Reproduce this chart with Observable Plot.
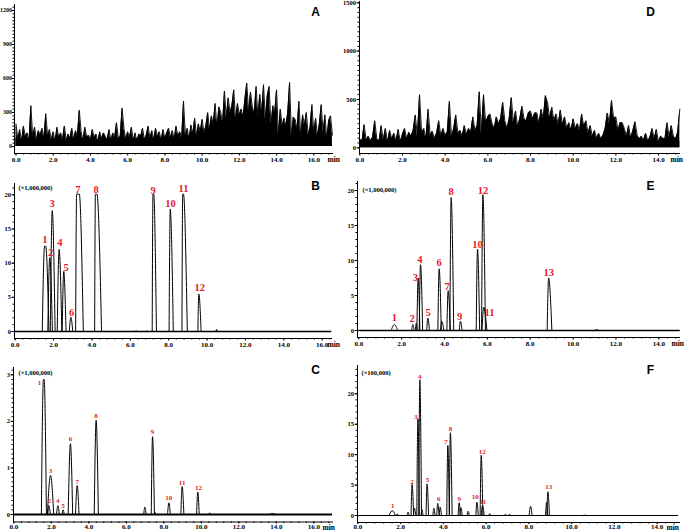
<!DOCTYPE html>
<html><head><meta charset="utf-8">
<script src="https://cdn.jsdelivr.net/npm/d3@7"></script>
<script src="https://cdn.jsdelivr.net/npm/@observablehq/plot@0.6"></script>
<style>
body{margin:0;background:#fff;}
#wrap{position:relative;width:685px;height:531px;overflow:hidden;background:#fff;}
#wrap svg{position:absolute;}
</style></head><body><div id="wrap"></div>
<script>
// ---------- tick values ----------
const xTicks16 = [0, 2, 4, 6, 8, 10, 12, 14, 16];
const xTicks14 = [0, 2, 4, 6, 8, 10, 12, 14];
const yTicksA = [0, 300, 600, 900, 1200];
const yTicksD = [0, 500, 1000, 1500];
const yTicksB = [0, 5, 10, 15, 20];
const yTicksC = [0, 1, 2, 3];
const yTicksE = [0, 5, 10, 15, 20];
const yTicksF = [0, 5, 10, 15, 20];

// ---------- blank noise traces (A, D), sampled every 0.1 min ----------
const noiseStep = 0.1;
const noiseA = [
 200,60,150,40,180,90,120,50,360,80,
 170,60,140,100,160,70,290,90,150,60,
 130,40,170,80,120,60,180,50,110,70,
 160,60,140,90,320,130,50,170,80,100,
 60,150,80,110,40,130,70,120,90,60,
 150,50,120,80,210,70,90,340,160,60,
 130,80,170,50,120,40,110,90,160,60,
 100,180,70,140,60,160,90,130,50,150,
 70,120,160,80,140,60,180,90,130,70,
 400,100,160,60,190,110,250,90,200,130,
 240,120,180,300,150,270,200,380,160,350,
 300,200,490,250,430,300,360,500,230,380,
 280,330,260,420,560,300,480,350,290,530,
 260,460,300,545,240,450,530,180,360,300,
 500,100,330,180,250,180,300,565,90,260,
 240,150,400,80,280,190,300,100,170,370,
 120,250,90,200,370,120,280,60,230,270,
 100];
// filled low-level band under the overlaid blank traces
const floorA_t = [0, 2, 4, 6, 8, 9, 9.8, 10.4, 10.6, 11, 12, 13, 13.8, 14.05, 15, 16, 17];
const floorA_v = [70, 60, 60, 70, 70, 80, 100, 140, 200, 230, 250, 240, 200, 40, 30, 30, 30];

const noiseD = [
 90,60,240,80,120,70,110,280,90,60,
 230,80,200,60,180,90,150,70,190,60,
 140,200,90,160,120,180,340,120,550,150,
 200,90,400,130,170,100,150,280,120,200,
 130,160,480,110,200,340,150,180,120,230,
 140,200,160,320,180,230,580,150,550,260,
 320,350,250,200,320,250,300,470,280,200,
 300,520,260,380,220,300,430,300,280,360,
 380,300,360,360,250,400,300,540,470,300,
 420,280,350,240,390,240,320,200,260,180,
 300,200,250,180,350,220,280,150,230,120,
 180,100,150,90,130,200,360,250,490,300,
 320,180,260,260,200,120,230,100,180,270,
 130,90,120,80,150,70,110,200,90,190,
 60,120,100,90,260,110,230,120,90,160,
 400];
const floorD_t = [0, 2, 4, 5, 5.5, 6.5, 8, 9.5, 10.5, 11.2, 11.6, 12.2, 13, 15];
const floorD_v = [80, 80, 90, 100, 130, 170, 180, 170, 120, 60, 130, 100, 70, 70];

// ---------- peaks: [retention time (min), height, left width, right width, top half-width] ----------
const peaksB = [
 [1.56, 12.5, 0.15, 0.20, 0.03], [1.80, 10.8, 0.10, 0.14, 0], [1.93, 17.7, 0.10, 0.15, 0],
 [2.29, 12.0, 0.10, 0.14, 0], [2.53, 8.8, 0.08, 0.12, 0], [2.90, 2.1, 0.08, 0.10, 0],
 [3.27, 20.1, 0.12, 0.28, 0.07], [4.22, 20.1, 0.08, 0.28, 0.04], [7.20, 20.1, 0.06, 0.16, 0.02],
 [8.08, 17.9, 0.06, 0.16, 0], [8.75, 20.1, 0.06, 0.22, 0.02], [9.57, 5.5, 0.05, 0.12, 0],
 [10.5, 0.3, 0.05, 0.05, 0], [6.3, 0.12, 0.05, 0.05, 0], [6.85, 0.08, 0.05, 0.05, 0]];
const labelB_s = ["1","2","3","4","5","6","7","8","9","10","11","12"];
const labelB_t = [1.55, 1.84, 1.93, 2.33, 2.66, 2.94, 3.27, 4.22, 7.19, 8.10, 8.77, 9.62];
const labelB_v = [13.4, 11.6, 18.7, 13.0, 9.4, 2.8, 20.8, 20.8, 20.6, 18.7, 20.9, 6.4];

const peaksE = [
 [1.66, 0.86, 0.15, 0.15, 0], [2.52, 0.86, 0.05, 0.06, 0], [2.68, 1.0, 0.04, 0.05, 0],
 [2.77, 7.5, 0.06, 0.08, 0], [2.88, 9.4, 0.06, 0.10, 0], [3.22, 1.76, 0.05, 0.08, 0],
 [3.75, 8.8, 0.06, 0.10, 0], [3.87, 1.3, 0.06, 0.10, 0], [4.17, 5.7, 0.06, 0.10, 0],
 [4.31, 19.0, 0.06, 0.12, 0], [4.74, 1.33, 0.05, 0.08, 0], [5.54, 11.6, 0.06, 0.10, 0],
 [5.79, 19.4, 0.06, 0.12, 0], [5.83, 3.3, 0.08, 0.15, 0], [8.86, 7.5, 0.07, 0.15, 0],
 [11.1, 0.12, 0.10, 0.10, 0]];
const labelE_s = ["1","2","3","4","5","6","7","8","9","10","11","12","13"];
const labelE_t = [1.66, 2.49, 2.64, 2.85, 3.23, 3.75, 4.12, 4.31, 4.71, 5.54, 6.10, 5.80, 8.86];
const labelE_v = [1.9, 1.76, 7.6, 10.1, 2.5, 9.7, 6.2, 19.8, 2.05, 12.3, 2.6, 20.0, 8.2];

const peaksC = [
 [1.60, 2.90, 0.13, 0.14, 0.02], [1.87, 0.19, 0.06, 0.08, 0], [1.96, 0.84, 0.17, 0.17, 0],
 [2.35, 0.19, 0.07, 0.08, 0], [2.63, 0.10, 0.06, 0.06, 0], [3.02, 1.52, 0.12, 0.12, 0],
 [3.38, 0.62, 0.09, 0.10, 0], [4.39, 2.02, 0.10, 0.12, 0], [6.99, 0.16, 0.06, 0.07, 0],
 [7.40, 1.67, 0.07, 0.10, 0], [7.52, 0.05, 0.04, 0.05, 0], [8.27, 0.25, 0.07, 0.08, 0],
 [8.98, 0.60, 0.07, 0.09, 0], [9.81, 0.48, 0.06, 0.08, 0], [10.45, 0.03, 0.08, 0.08, 0],
 [13.8, 0.02, 0.15, 0.15, 0]];
const labelC_s = ["1","2","3","4","5","6","7","8","9","10","11","12"];
const labelC_t = [1.37, 1.90, 1.96, 2.35, 2.63, 3.02, 3.38, 4.39, 7.40, 8.27, 8.98, 9.85];
const labelC_v = [2.83, 0.29, 0.94, 0.29, 0.19, 1.62, 0.71, 2.11, 1.77, 0.36, 0.69, 0.57];

const peaksF = [
 [1.61, 0.8, 0.15, 0.15, 0], [1.85, 0.25, 0.05, 0.05, 0], [2.35, 0.55, 0.04, 0.05, 0],
 [2.54, 5.1, 0.05, 0.07, 0], [2.65, 1.2, 0.05, 0.06, 0], [2.81, 15.9, 0.05, 0.07, 0],
 [2.90, 22.3, 0.05, 0.08, 0], [3.00, 1.0, 0.04, 0.05, 0], [3.24, 5.2, 0.05, 0.07, 0],
 [3.56, 1.2, 0.05, 0.05, 0], [3.74, 2.0, 0.05, 0.06, 0], [3.85, 1.4, 0.04, 0.06, 0],
 [4.21, 11.5, 0.05, 0.07, 0], [4.33, 13.6, 0.05, 0.08, 0], [4.74, 2.1, 0.05, 0.05, 0],
 [4.82, 1.3, 0.04, 0.06, 0], [5.16, 0.7, 0.05, 0.05, 0], [5.57, 2.2, 0.05, 0.06, 0],
 [5.77, 9.9, 0.05, 0.08, 0], [5.83, 1.6, 0.06, 0.08, 0], [6.17, 0.3, 0.06, 0.06, 0],
 [6.90, 0.2, 0.05, 0.05, 0], [7.10, 0.2, 0.05, 0.05, 0], [8.08, 1.5, 0.07, 0.07, 0],
 [8.83, 2.2, 0.05, 0.05, 0], [8.89, 3.9, 0.05, 0.07, 0], [10.6, 0.05, 0.08, 0.08, 0]];
const labelF_s = ["1","2","3","4","5","6","7","8","9","10","11","12","13"];
const labelF_t = [1.64, 2.53, 2.71, 2.90, 3.26, 3.79, 4.12, 4.33, 4.74, 5.49, 5.85, 5.82, 8.93];
const labelF_v = [1.64, 5.5, 16.2, 22.8, 5.9, 2.7, 12.1, 14.2, 2.7, 3.0, 2.2, 10.5, 4.7];

// ---------- helpers ----------
const RED = "#e3222a";
const SERIF = "'Liberation Serif', 'Times New Roman', serif";
const SANS = "'Liberation Sans', Arial, sans-serif";
const wrap = document.getElementById("wrap");

function lin(cal, p) {
  const [[v0, p0], [v1, p1]] = cal;
  return v0 + (p - p0) * (v1 - v0) / (p1 - p0);
}
function peakRows(peaks) {
  const rows = [];
  peaks.forEach(([t, h, wl, wr, tw], k) => {
    rows.push({t: t - wl, v: 0, k});
    if (tw > 0) { rows.push({t: t - tw, v: h, k}); rows.push({t: t + tw, v: h, k}); }
    else rows.push({t, v: h, k});
    rows.push({t: t + wr, v: 0, k});
  });
  return rows;
}
function steps(lo, hi, step) {
  const out = [];
  for (let i = Math.ceil(lo / step - 1e-9); i * step <= hi + 1e-9; i++) out.push(+(i * step).toFixed(6));
  return out;
}

function panel(c) {
  const xLo = lin(c.xc, c.left), xHi = lin(c.xc, c.right);
  const yLo = lin(c.yc, c.bottom), yHi = lin(c.yc, c.top);
  const marks = [];
  if (c.noise) {
    const rows = c.noise.map((v, i) => ({t: i * noiseStep, v}));
    marks.push(Plot.areaY(c.floor[0].map((t, i) => ({t, v: c.floor[1][i]})), {x: "t", y: "v", fill: "black"}));
    marks.push(Plot.areaY(rows, {x: "t", y: "v", fill: "black"}));
    marks.push(Plot.line(rows, {x: "t", y: "v", stroke: "black", strokeWidth: 0.9}));
  }
  if (c.baseline) marks.push(Plot.ruleY([0], {x1: c.baseline[0], x2: c.baseline[1], stroke: "black", strokeWidth: c.baseW || 1.5}));
  if (c.peaks) marks.push(Plot.line(peakRows(c.peaks), {x: "t", y: "v", z: "k", curve: "monotone-x", stroke: "black", strokeWidth: 1}));
  if (c.labels) marks.push(Plot.text(c.labels[0].map((s, i) => ({s, t: c.labels[1][i], v: c.labels[2][i]})),
    {x: "t", y: "v", text: "s", fill: RED, fontSize: c.labelSize, fontWeight: "bold", fontFamily: SERIF}));
  // axes
  marks.push(Plot.ruleX([xLo], {stroke: "black", strokeWidth: 1}));
  marks.push(Plot.ruleY([yLo], {stroke: "black", strokeWidth: 1}));
  marks.push(Plot.axisY(steps(Math.max(yLo, 0), yHi, c.yMinor), {anchor: "left", tickSize: 1.5, tickFormat: () => "", label: null, stroke: "black"}));
  marks.push(Plot.axisY(c.yTicks, {anchor: "left", tickSize: c.yTickSize || 2.5, tickPadding: c.yPad ?? 1, tickFormat: d => String(d), label: null,
    fontSize: c.yFont || 6.5, fontWeight: "bold", fontFamily: SERIF, fill: "black", stroke: "black"}));
  marks.push(Plot.axisX(steps(Math.max(xLo, 0), xHi, c.xMinor), {anchor: "bottom", tickSize: 1.5, tickFormat: () => "", label: null, stroke: "black"}));
  marks.push(Plot.axisX(c.xTicks, {anchor: "bottom", tickSize: c.xTickSize || 2.5, tickPadding: c.xPad ?? 1, tickFormat: d3.format(".1f"), label: null,
    fontSize: 7, fontWeight: "bold", fontFamily: SERIF, fill: "black", stroke: "black"}));
  marks.push(Plot.text(["min"], {frameAnchor: "bottom-right", textAnchor: "start", lineAnchor: "middle", dx: c.minDx, dy: c.minDy || 6.5,
    fontSize: 7.5, fontWeight: "bold", fontFamily: SERIF, fill: "black"}));
  marks.push(Plot.text([c.letter], {frameAnchor: "top-left", textAnchor: "middle", lineAnchor: "middle", dx: c.letterPos[0] - c.left, dy: c.letterPos[1] - c.top,
    fontSize: 12, fontWeight: "bold", fontFamily: SANS, fill: "black"}));
  if (c.unit) marks.push(Plot.text([c.unit], {frameAnchor: "top-left", textAnchor: "start", lineAnchor: "middle", dx: c.unitPos[0] - c.left, dy: c.unitPos[1] - c.top,
    fontSize: 6.5, fontWeight: "bold", fontFamily: SERIF, fill: "black"}));

  const svg = Plot.plot({
    width: c.W, height: c.H,
    marginLeft: c.left - c.L, marginRight: c.L + c.W - c.right,
    marginTop: c.top - c.T, marginBottom: c.T + c.H - c.bottom,
    x: {domain: [xLo, xHi], label: null},
    y: {domain: [yLo, yHi], label: null},
    style: {background: "transparent", overflow: "visible", fontFamily: SERIF, fontSize: "7px", fontWeight: "bold", color: "black"},
    marks
  });
  svg.style.left = c.L + "px";
  svg.style.top = c.T + "px";
  wrap.appendChild(svg);
}

// ---------- panels ----------
panel({letter: "A", L: 0, T: 0, W: 342, H: 170, left: 14, right: 333, top: 4, bottom: 153,
  xc: [[0, 15.5], [16, 313.3]], yc: [[0, 146], [1200, 10]], xTicks: xTicks16, yTicks: yTicksA,
  xMinor: 0.4, yMinor: 30, noise: noiseA, floor: [floorA_t, floorA_v], minDx: -6, letterPos: [315, 12],
  yFont: 6, yTickSize: 2, yPad: 0.5});

panel({letter: "D", L: 342, T: 0, W: 343, H: 170, left: 359, right: 680, top: 1, bottom: 153,
  xc: [[0, 359.3], [14, 658]], yc: [[0, 147.3], [1500, 2.3]], xTicks: xTicks14, yTicks: yTicksD,
  xMinor: 0.4, yMinor: 50, noise: noiseD, floor: [floorD_t, floorD_v], minDx: -10, letterPos: [650, 12]});

panel({letter: "B", L: 0, T: 170, W: 342, H: 180, left: 14, right: 332, top: 183, bottom: 338,
  xc: [[0, 14.7], [16, 321.7]], yc: [[0, 331], [20, 194.3]], xTicks: xTicks16, yTicks: yTicksB,
  xMinor: 0.4, yMinor: 1, peaks: peaksB, baseline: [0, 16.5], labels: [labelB_s, labelB_t, labelB_v], labelSize: 10.5,
  unit: "(×1,000,000)", unitPos: [18, 187], minDx: -5, letterPos: [315, 186]});

panel({letter: "E", L: 342, T: 170, W: 343, H: 180, left: 357, right: 680, top: 181, bottom: 337,
  xc: [[0, 358.3], [14, 658.3]], yc: [[0, 330], [20, 190]], xTicks: xTicks14, yTicks: yTicksE,
  xMinor: 0.4, yMinor: 1, peaks: peaksE, baseline: [0, 15.0], labels: [labelE_s, labelE_t, labelE_v], labelSize: 10.5,
  unit: "(×1,000,000)", unitPos: [362, 189], minDx: -9, letterPos: [650, 186]});

panel({letter: "C", L: 0, T: 350, W: 342, H: 181, left: 13, right: 333, top: 367, bottom: 521.5,
  xc: [[0, 13.3], [16, 313.3]], yc: [[0, 514], [3, 374.3]], xTicks: xTicks16, yTicks: yTicksC,
  xMinor: 0.4, yMinor: 0.1, peaks: peaksC, baseline: [0, 17.0], baseW: 2.2, labels: [labelC_s, labelC_t, labelC_v], labelSize: 7,
  xTickSize: 2, xPad: 0, minDy: 5.5,
  unit: "(×1,000,000)", unitPos: [18, 372], minDx: -11, letterPos: [315, 370]});

panel({letter: "F", L: 342, T: 350, W: 343, H: 181, left: 357, right: 680, top: 365, bottom: 522,
  xc: [[0, 357.3], [14, 656.7]], yc: [[0, 515], [20, 393.3]], xTicks: xTicks14, yTicks: yTicksF,
  xMinor: 0.4, yMinor: 1, peaks: peaksF, baseline: [0, 15.0], baseW: 1.2, labels: [labelF_s, labelF_t, labelF_v], labelSize: 7,
  xTickSize: 2, xPad: 0, minDy: 5.5,
  unit: "(×100,000)", unitPos: [361, 372], minDx: -14, letterPos: [650, 370]});
</script></body></html>
